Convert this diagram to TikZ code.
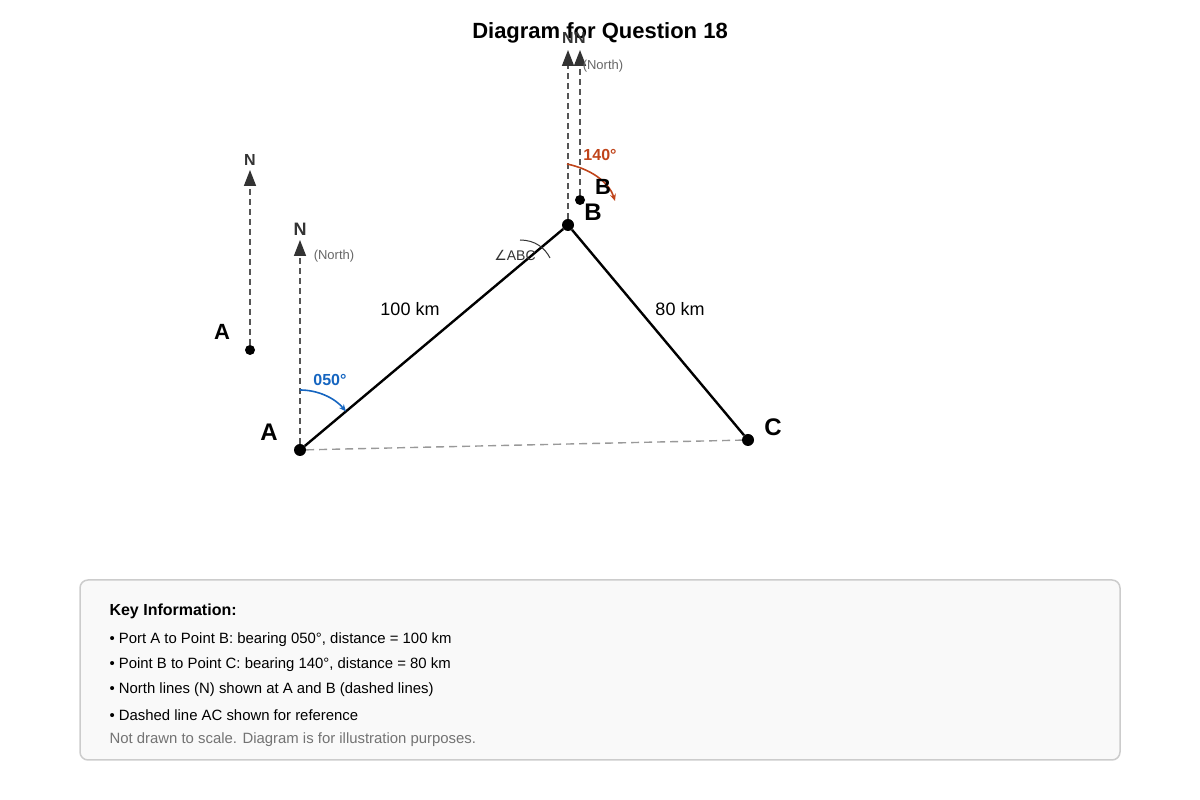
\documentclass[tikz,border=0pt]{standalone}
\usepackage{fontspec}
\setmainfont{Liberation Sans}
\newfontfamily\symfont{DejaVu Sans}
\usetikzlibrary{arrows.meta}

\definecolor{northgray}{HTML}{555555}
\definecolor{tipgray}{HTML}{333333}
\definecolor{bearblue}{HTML}{1565C0}
\definecolor{bearred}{HTML}{C0441A}
\definecolor{keyfill}{HTML}{F9F9F9}
\definecolor{keyline}{HTML}{CCCCCC}

\tikzset{
  dot/.style={circle,fill=black,inner sep=0pt,minimum size=12pt},
  smalldot/.style={circle,fill=black,inner sep=0pt,minimum size=10pt},
  northline/.style={northgray,line width=1.6pt,dash pattern=on 6pt off 4pt,
    -{Triangle[length=16pt,width=12pt,fill=tipgray,color=tipgray]}},
  track/.style={black,line width=2.4pt},
  ptlabel/.style={font=\fontsize{24}{28}\selectfont\bfseries},
  nlabel/.style={font=\fontsize{16}{19}\selectfont\bfseries,text=tipgray},
  northtext/.style={font=\fontsize{13}{15}\selectfont,text=black!60},
  keytext/.style={anchor=west,font=\fontsize{14.9}{18}\selectfont}
}

\begin{document}
\begin{tikzpicture}[x=1pt,y=1pt]
  \useasboundingbox (0,0) rectangle (1200,800);
  \node[font=\fontsize{22}{26}\selectfont\bfseries] (title) at (600,767) {Diagram for Question 18};

  % points
  \node[dot] (A) at (300,350) {};
  \node[dot] (B) at (568,575) {};
  \node[dot] (C) at (748,360) {};
  \node[smalldot] (A2) at (250,450) {};
  \node[smalldot] (B2) at (580,600) {};

  % north lines
  \coordinate (nA) at (300,560);
  \coordinate (nA2) at (250,630);
  \coordinate (nB) at (568,750);
  \coordinate (nB2) at (580,750);
  \draw[northline] (A) -- (nA);
  \draw[northline] (A2) -- (nA2);
  \draw[northline] (B) -- (nB);
  \draw[northline] (B2) -- (nB2);
  \node[nlabel,font=\fontsize{18}{21}\selectfont\bfseries] (NA) at (300,571) {N};
  \node[nlabel] (NA2) at (250,640) {N};
  \node[nlabel] (NB) at (568,762) {N};
  \node[nlabel] (NB2) at (580,762) {N};
  \node[northtext] (northA) at (334,544) {(North)};
  \node[northtext] (northB) at (603,734) {(North)};

  % tracks
  \draw[gray!80,line width=1.4pt,dash pattern=on 8pt off 5pt] (A) -- (C);
  \draw[track] (A) -- (B);
  \draw[track] (B) -- (C);
  \node[font=\fontsize{18}{21}\selectfont] (dAB) at (410,491) {100 km};
  \node[font=\fontsize{18}{21}\selectfont] (dBC) at (680,491) {80 km};

  % bearings
  \draw[bearblue,line width=1.6pt,-{Stealth[length=7pt,width=6pt]}]
    ([shift={(A.center)}]90:60) arc[start angle=90,end angle=40,radius=60];
  \node[font=\fontsize{16}{19}\selectfont\bfseries,text=bearblue] (bearA) at (330,420) {050°};
  \draw[bearred,line width=1.6pt,-{Stealth[length=7pt,width=6pt]}]
    (567,636) .. controls (595,630) and (610,615) .. (615,599);
  \node[font=\fontsize{16}{19}\selectfont\bfseries,text=bearred] (bearB) at (600,645) {140°};
  \draw[tipgray,line width=1pt] (520,560) .. controls (535,560) and (545,552) .. (550,542);
  \node[font=\fontsize{14}{16}\selectfont,text=tipgray] (angB) at (515,545) {{\symfont ∠}ABC};

  % labels
  \node[ptlabel] (lA) at (269,368) {A};
  \node[ptlabel,font=\fontsize{22}{26}\selectfont\bfseries] (lA2) at (222,468) {A};
  \node[ptlabel] (lB) at (593,588) {B};
  \node[ptlabel,font=\fontsize{22}{26}\selectfont\bfseries] (lB2) at (603,613) {B};
  \node[ptlabel] (lC) at (773,373) {C};

  % key
  \draw[keyline,fill=keyfill,line width=1.5pt,rounded corners=8pt] (80,40) rectangle (1120,220);
  \node[keytext,font=\fontsize{16}{19}\selectfont\bfseries] (key) at (106,189) {Key Information:};
  \node[keytext] (k1) at (106,160) {• Port A to Point B: bearing 050°, distance = 100 km};
  \node[keytext] (k2) at (106,135) {• Point B to Point C: bearing 140°, distance = 80 km};
  \node[keytext] (k3) at (106,110) {• North lines (N) shown at A and B (dashed lines)};
  \node[keytext] (k4) at (106,85) {• Dashed line AC shown for reference};
  \node[keytext,text=black!55] (k5) at (106,60) {Not drawn to scale. Diagram is for illustration purposes.};
\end{tikzpicture}
\end{document}
